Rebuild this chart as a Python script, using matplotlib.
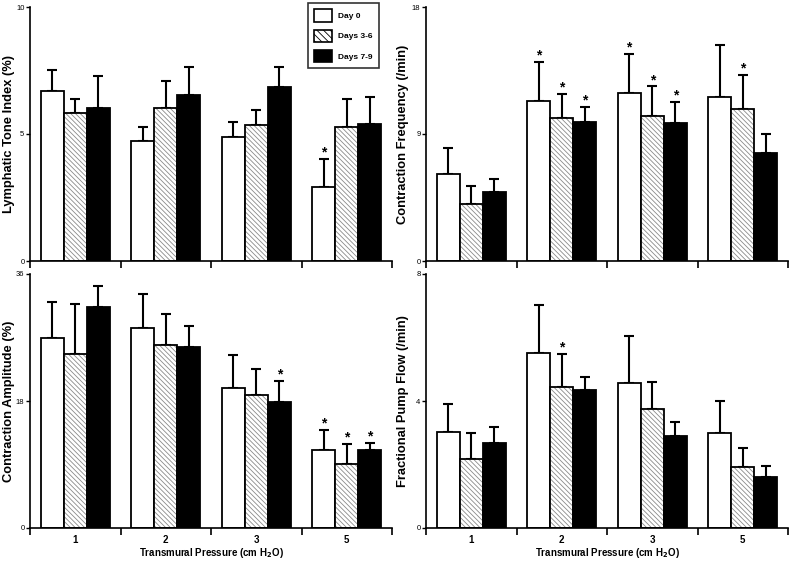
import matplotlib
matplotlib.use("Agg")
import matplotlib.pyplot as plt
import numpy as np
from matplotlib.patches import Patch

plt.rcParams["font.family"] = ["Liberation Sans", "DejaVu Sans"]
plt.rcParams["hatch.linewidth"] = 0.6

pressures = ["1", "2", "3", "5"]
groups = ["Day 0", "Days 3-6", "Days 7-9"]

# Lymphatic tone index (%)
tone_mean = [[6.70, 4.74, 4.88, 2.92], [5.83, 6.03, 5.35, 5.26], [6.03, 6.55, 6.85, 5.41]]
tone_top = [[7.51, 5.26, 5.48, 4.02], [6.38, 7.08, 5.96, 6.38], [7.27, 7.64, 7.64, 6.47]]
tone_star = [[False, False, False, True], [False] * 4, [False] * 4]

# Contraction frequency (/min)
freq_mean = [[6.20, 11.37, 11.89, 11.65], [4.06, 10.14, 10.31, 10.75], [4.91, 9.86, 9.76, 7.62]]
freq_top = [[8.04, 14.10, 14.69, 15.31], [5.35, 11.84, 12.38, 13.18], [5.80, 10.92, 11.27, 8.99]]
freq_star = [[False, True, True, False], [False, True, True, True], [False, True, True, False]]

# Contraction amplitude (%)
amp_mean = [[27.0, 28.3, 19.9, 11.1], [24.6, 26.0, 18.8, 9.1], [31.3, 25.6, 17.8, 11.0]]
amp_top = [[32.0, 33.1, 24.5, 13.9], [31.7, 30.3, 22.6, 11.9], [34.3, 28.6, 20.8, 12.1]]
amp_star = [[False, False, False, True], [False, False, False, True], [False, False, True, True]]

# Fractional pump flow (/min)
flow_mean = [[3.02, 5.52, 4.57, 2.98], [2.18, 4.45, 3.74, 1.92], [2.67, 4.35, 2.91, 1.62]]
flow_top = [[3.90, 7.02, 6.04, 4.00], [3.00, 5.48, 4.61, 2.52], [3.17, 4.77, 3.34, 1.94]]
flow_star = [[False] * 4, [False, True, False, False], [False] * 4]

panels = [
    (tone_mean, tone_top, tone_star, 10, "Lymphatic Tone Index (%)"),
    (freq_mean, freq_top, freq_star, 18, "Contraction Frequency (/min)"),
    (amp_mean, amp_top, amp_star, 36, "Contraction Amplitude (%)"),
    (flow_mean, flow_top, flow_star, 8, "Fractional Pump Flow (/min)"),
]

W, H = 800, 563
fig = plt.figure(figsize=(8, 5.63), dpi=100)
boxes = [(30, 7), (426, 7), (30, 274), (426, 274)]
aw, ah = 362, 254

bw = 0.255
hatch = "\\" * 7
for i, (means, tops, stars, ymax, ylabel) in enumerate(panels):
    x0, y0 = boxes[i]
    ax = fig.add_axes([x0 / W, 1 - (y0 + ah) / H, aw / W, ah / H])
    x = np.arange(4)
    for g in range(3):
        xs = x + (g - 1) * bw
        m = np.array(means[g])
        t = np.array(tops[g])
        ax.errorbar(xs, m, yerr=[np.zeros(4), t - m], fmt="none", ecolor="black",
                    elinewidth=1.5, capsize=3.5, capthick=1.5, zorder=1)
        if g == 0:
            ax.bar(xs, m, bw, color="white", edgecolor="black", linewidth=1.3, zorder=2)
        elif g == 1:
            ax.bar(xs, m, bw, color="white", edgecolor="#8a8a8a", hatch=hatch,
                   linewidth=0, zorder=2)
            ax.bar(xs, m, bw, fill=False, edgecolor="black", linewidth=1.3, zorder=3)
        else:
            ax.bar(xs, m, bw, color="black", edgecolor="black", linewidth=1.3, zorder=2)
        for k in range(4):
            if stars[g][k]:
                ax.annotate("*", (xs[k], t[k]), xytext=(0, -0.5), textcoords="offset points",
                            ha="center", va="bottom", fontsize=10, fontweight="bold")
    ax.set_xlim(-0.5, 3.5)
    ax.set_ylim(0, ymax)
    ax.spines["top"].set_visible(False)
    ax.spines["right"].set_visible(False)
    ax.spines["left"].set_linewidth(1.2)
    ax.spines["bottom"].set_linewidth(1.2)
    ax.set_yticks([0, ymax / 2, ymax])
    ax.set_yticklabels(["0", f"{ymax // 2}", f"{ymax}"])
    ax.tick_params(axis="y", length=3, width=1, labelsize=5.5, pad=1)
    ax.set_xticks([-0.5, 0.5, 1.5, 2.5, 3.5])
    ax.set_xticklabels([])
    ax.tick_params(axis="x", which="major", length=5, width=1.2)
    ax.set_xticks(x, minor=True)
    if i >= 2:
        ax.set_xticklabels(pressures, minor=True, fontweight="bold", fontsize=7)
        ax.set_xlabel("Transmural Pressure (cm H$_\\mathbf{2}$O)", fontweight="bold", fontsize=7)
        ax.xaxis.set_label_coords(0.5, -0.072)
        ax.xaxis.label.set_va("top")
    ax.tick_params(axis="x", which="minor", length=0, pad=5)
    ax.set_ylabel(ylabel, fontweight="bold", fontsize=9.3)
    ax.yaxis.set_label_coords(-0.042 if i % 2 == 0 else -0.046, 0.5)

handles = [Patch(facecolor="white", edgecolor="black", linewidth=1.2),
           Patch(facecolor="white", edgecolor="black", hatch="\\\\\\\\\\", linewidth=1.2),
           Patch(facecolor="black", edgecolor="black", linewidth=1.2)]
leg = fig.legend(handles, groups, loc="upper left", bbox_to_anchor=(308 / W, 1 - 3 / H),
                 frameon=True, fancybox=False, edgecolor="black",
                 handlelength=2.1, handleheight=1.9, labelspacing=0.95, borderpad=0.75,
                 borderaxespad=0, handletextpad=0.8, prop={"weight": "bold", "size": 6})
leg.get_frame().set_linewidth(1.2)

fig.savefig("out.png", dpi=100)
